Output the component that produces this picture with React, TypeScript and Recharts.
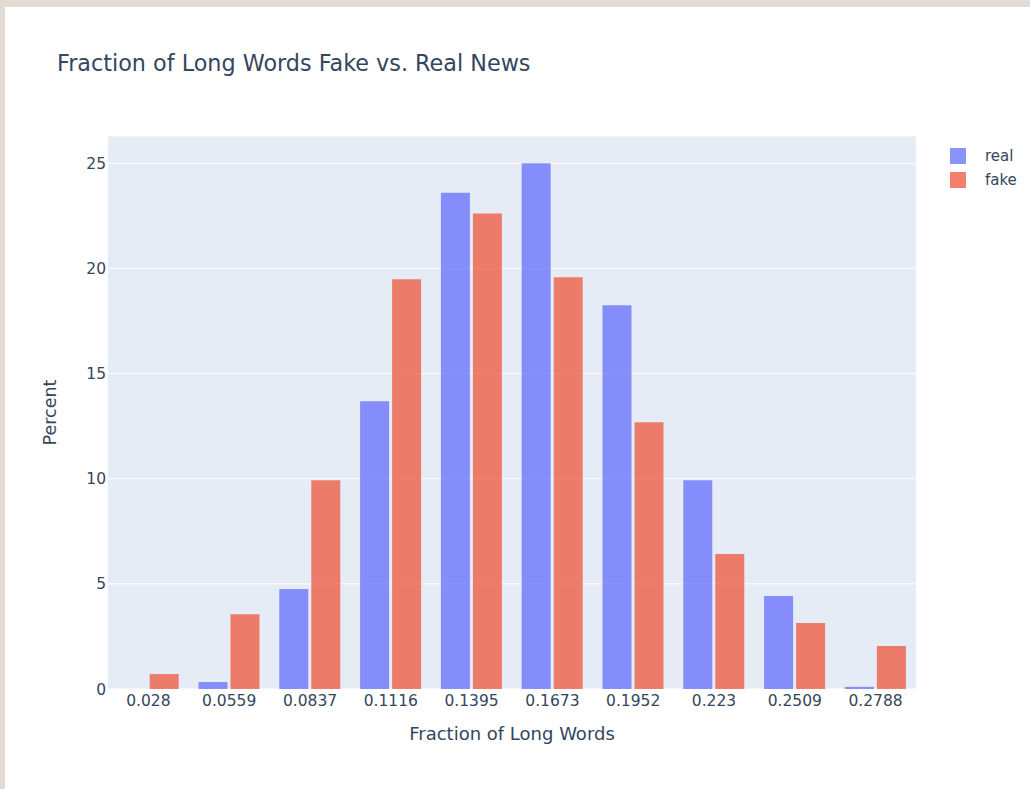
import { Bar, BarChart, XAxis, YAxis, CartesianGrid, Label } from "recharts"

const categories = ["0.028", "0.0559", "0.0837", "0.1116", "0.1395", "0.1673", "0.1952", "0.223", "0.2509", "0.2788"]
const realValues = [0, 0.33, 4.75, 13.69, 23.6, 25.0, 18.25, 9.93, 4.42, 0.1]
const fakeValues = [0.71, 3.56, 9.93, 19.49, 22.62, 19.58, 12.69, 6.42, 3.14, 2.04]
const yTicks = [0, 5, 10, 15, 20, 25]

const REAL = "#636efa"
const FAKE = "#EF553B"
const INK = "#34465e"
const FONT = "'DejaVu Sans', Verdana, sans-serif"

const data = categories.map((name, i) => ({ name, real: realValues[i], fake: fakeValues[i] }))

const YTitle = ({ viewBox }: any) => {
  const cx = viewBox.x - 18
  const cy = viewBox.y + viewBox.height / 2
  return (
    <text x={cx} y={cy} transform={`rotate(-90 ${cx} ${cy})`} textAnchor="middle" dominantBaseline="central"
      fill={INK} fontSize={17.5} fontFamily={FONT}>
      Percent
    </text>
  )
}

export default function App() {
  return (
    <div style={{ position: "absolute", left: 0, top: 0, width: 1030, height: 789, background: "#e2dbd4", overflow: "hidden" }}>
      <div style={{ position: "absolute", left: 5, top: 7, width: 1025, height: 782, background: "#ffffff" }} />
      <div style={{ position: "absolute", left: 57, top: 50, fontFamily: FONT, fontSize: 22.3, lineHeight: "27px", color: INK, whiteSpace: "nowrap" }}>
        Fraction of Long Words Fake vs. Real News
      </div>
      <div style={{ position: "absolute", left: 0, top: 0 }}>
        <BarChart width={1030} height={789} data={data}
          margin={{ top: 136, right: 114, bottom: 70, left: 68 }}
          barCategoryGap="12%" barGap={3}>
          <CartesianGrid fill="#E5ECF6" stroke="#ffffff" strokeWidth={1} vertical={false} />
          <XAxis dataKey="name" height={30} axisLine={false} tickLine={false} tickSize={0} tickMargin={6}
            tick={{ fill: INK, fontSize: 15.5, fontFamily: FONT }} interval={0}>
            <Label value="Fraction of Long Words" position="bottom" offset={8} fill={INK} fontSize={18} fontFamily={FONT} />
          </XAxis>
          <YAxis width={40} domain={[0, 26.3]} ticks={yTicks} axisLine={false} tickLine={false} tickSize={0} tickMargin={2}
            tick={{ fill: INK, fontSize: 15.5, fontFamily: FONT }} allowDataOverflow>
            <Label content={<YTitle />} />
          </YAxis>
          <Bar dataKey="real" fill={REAL} fillOpacity={0.75} isAnimationActive={false} />
          <Bar dataKey="fake" fill={FAKE} fillOpacity={0.75} isAnimationActive={false} />
        </BarChart>
      </div>
      {[["real", REAL], ["fake", FAKE]].map(([name, color], i) => (
        <div key={name} style={{ position: "absolute", left: 950, top: 147 + i * 24, height: 17, display: "flex", alignItems: "center", fontFamily: FONT, fontSize: 15, color: INK }}>
          <div style={{ width: 16, height: 16, background: color, opacity: 0.75 }} />
          <span style={{ marginLeft: 19 }}>{name}</span>
        </div>
      ))}
    </div>
  )
}
